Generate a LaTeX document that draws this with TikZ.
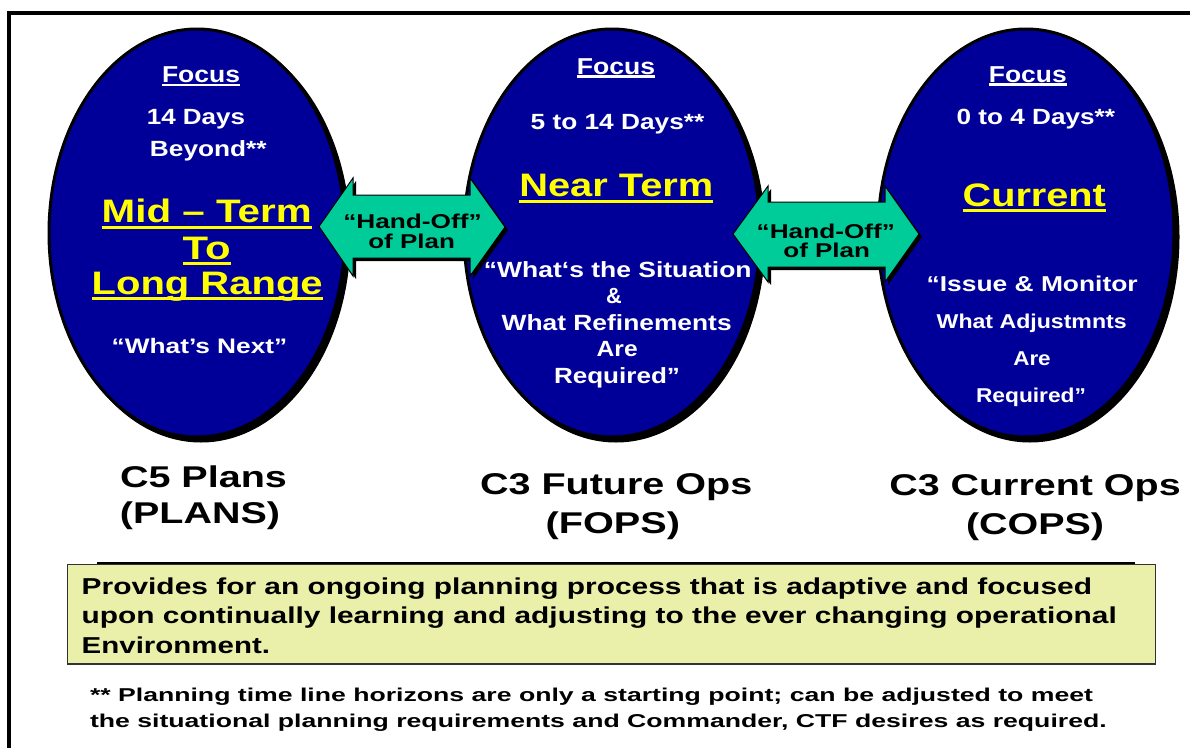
\documentclass[tikz,border=0pt]{standalone}
\usepackage{fontspec}
\setmainfont{Liberation Sans}
\usepackage{graphicx}
\usetikzlibrary{shapes.geometric}
\definecolor{ellblue}{RGB}{0,0,153}
\definecolor{hgreen}{RGB}{0,204,153}
\definecolor{boxfill}{RGB}{234,240,170}
\definecolor{ylw}{RGB}{255,255,0}
\newcommand\mytx[6]{\node[#1] (#2) at (#3) {\resizebox{#4pt}{\height}{\fontsize{#5pt}{#5pt}\selectfont\bfseries #6}};}
\begin{document}
\begin{tikzpicture}[x=1pt,y=-1pt,
  txt/.style={inner sep=0pt,outer sep=0pt,anchor=base,font=\bfseries},
  wt/.style={txt,text=white},
  yt/.style={txt,text=ylw},
  bt/.style={txt,text=black},
  btl/.style={txt,text=black,anchor=base west},
  ell/.style={ellipse,draw=black,line width=3pt,fill=ellblue,minimum width=296pt,minimum height=408pt,inner sep=0pt},
  eshad/.style={ellipse,fill=black,minimum width=299pt,minimum height=411pt,inner sep=0pt},
  harrow/.style={draw=black,line width=1pt,fill=hgreen},
  ashad/.style={fill=black},
  ulw/.style={draw=white,line width=2.5pt},
  uly/.style={draw=ylw,line width=3.3pt},
  frame/.style={draw=black,line width=3.5pt},
  boxst/.style={draw=black!80,line width=1.5pt,fill=boxfill}]
\useasboundingbox (0,0) rectangle (1190,747);
\clip (0,0) rectangle (1190,747);
\fill[white] (0,0) rectangle (1190,747);
% frame
\draw[frame] (9,800) -- (9,13) -- (1250,13);

% ellipses with shadows
\node[eshad] (s1) at (201,237) {};
\node[eshad] (s2) at (616,237) {};
\node[eshad] (s3) at (1030,237) {};
\node[ell] (e1) at (197,233) {};
\node[ell] (e2) at (612,233) {};
\node[ell] (e3) at (1026,233) {};

% hand-off arrows
\fill[ashad,shift={(3,3)}] (319,226.5) -- (353,178) -- (353,195) -- (470,195) -- (470,178) -- (505,227) -- (470,276) -- (470,258) -- (353,258) -- (353,276) -- cycle;
\draw[harrow] (319,226.5) -- (353,178) -- (353,195) -- (470,195) -- (470,178) -- (505,227) -- (470,276) -- (470,258) -- (353,258) -- (353,276) -- cycle;
\fill[ashad,shift={(3,3)}] (733,234) -- (768,186) -- (768,202) -- (885,202) -- (885,186) -- (919,234) -- (885,282) -- (885,267) -- (768,267) -- (768,282) -- cycle;
\draw[harrow] (733,234) -- (768,186) -- (768,202) -- (885,202) -- (885,186) -- (919,234) -- (885,282) -- (885,267) -- (768,267) -- (768,282) -- cycle;
\mytx{bt}{h1a}{412.5,228.3}{138.4}{20}{“Hand-Off”}
\mytx{bt}{h1b}{411.7,248.3}{86.7}{20}{of Plan}
\mytx{bt}{h2a}{825.8,238.3}{138.3}{20}{“Hand-Off”}
\mytx{bt}{h2b}{826.7,257.3}{86.7}{20}{of Plan}

% ellipse 1 text
\mytx{wt}{f1}{201,82.7}{78}{23}{Focus}
\mytx{wt}{d1a}{196,124}{98.3}{22}{14 Days}
\mytx{wt}{d1b}{208.3,156.7}{116.7}{22}{Beyond**}
\mytx{yt}{t1a}{206.7,222.7}{210}{32.5}{Mid – Term}
\mytx{yt}{t1b}{206.7,259.3}{48}{32.5}{To}
\mytx{yt}{t1c}{207.2,294.3}{231}{32.5}{Long Range}
\mytx{wt}{q1}{199.5,353.3}{175.6}{21}{“What’s Next”}

% ellipse 2 text
\mytx{wt}{f2}{616,74}{78.3}{23}{Focus}
\mytx{wt}{d2}{617.5,129.3}{173.6}{22}{5 to 14 Days**}
\mytx{yt}{t2}{616.3,196.7}{194}{32.5}{Near Term}
\mytx{wt}{q2a}{617.8,277.3}{267.7}{22}{“What‘s the Situation}
\mytx{wt}{q2b}{614,303.3}{15.7}{22}{\&}
\mytx{wt}{q2c}{616.7,330}{230}{22}{What Refinements}
\mytx{wt}{q2d}{617.2,356.7}{41}{22}{Are}
\mytx{wt}{q2e}{617,383.3}{126}{22}{Required”}

% ellipse 3 text
\mytx{wt}{f3}{1027.8,82.3}{77.7}{23}{Focus}
\mytx{wt}{d3}{1035.8,124}{158.3}{22}{0 to 4 Days**}
\mytx{yt}{t3}{1034.3,206}{143.3}{32.5}{Current}
\mytx{wt}{q3a}{1032.2,291}{211}{21.5}{“Issue \& Monitor}
\mytx{wt}{q3b}{1031.7,328.3}{190}{20}{What Adjustmnts}
\mytx{wt}{q3c}{1032,365.7}{37.4}{20}{Are}
\mytx{wt}{q3d}{1031,402.7}{110}{20}{Required”}

% underlines
\draw[ulw] ([yshift=-2.3pt]f1.base west) -- ([yshift=-2.3pt]f1.base east);
\draw[ulw] ([yshift=-2.3pt]f2.base west) -- ([yshift=-2.3pt]f2.base east);
\draw[ulw] ([yshift=-2.3pt]f3.base west) -- ([yshift=-2.3pt]f3.base east);
\draw[uly] ([yshift=-4.5pt]t1a.base west) -- ([yshift=-4.5pt]t1a.base east);
\draw[uly] ([yshift=-4.5pt]t1b.base west) -- ([yshift=-4.5pt]t1b.base east);
\draw[uly] ([yshift=-4.5pt]t1c.base west) -- ([yshift=-4.5pt]t1c.base east);
\draw[uly] ([yshift=-4.5pt]t2.base west) -- ([yshift=-4.5pt]t2.base east);
\draw[uly] ([yshift=-4.5pt]t3.base west) -- ([yshift=-4.5pt]t3.base east);

% labels
\mytx{bt}{l1a}{203.5,487}{167}{30}{C5 Plans}
\mytx{bt}{l1b}{200,523.3}{160}{30}{(PLANS)}
\mytx{bt}{l2a}{616.2,494}{272.3}{30}{C3 Future Ops}
\mytx{bt}{l2b}{612.8,533.3}{134.3}{30}{(FOPS)}
\mytx{bt}{l3a}{1035,495}{291.4}{30}{C3 Current Ops}
\mytx{bt}{l3b}{1035,534.3}{138}{30}{(COPS)}

% summary box
\draw[boxst] (67.3,564.3) rectangle (1155.7,664);
\draw[line width=2pt] (97,563.3) -- (1135,563.3);
\mytx{btl}{b1}{81.7,594.3}{1010.3}{23}{Provides for an ongoing planning process that is adaptive and focused}
\mytx{btl}{b2}{81.7,623.3}{1035}{23}{upon continually learning and adjusting to the ever changing operational}
\mytx{btl}{b3}{81.7,653}{188.3}{23}{Environment.}

% footnote
\mytx{btl}{n1}{90,701.7}{1003}{18.6}{** Planning time line horizons are only a starting point; can be adjusted to meet}
\mytx{btl}{n2}{90,727.3}{1016.7}{18.6}{the situational planning requirements and Commander, CTF desires as required.}
\end{tikzpicture}
\end{document}
